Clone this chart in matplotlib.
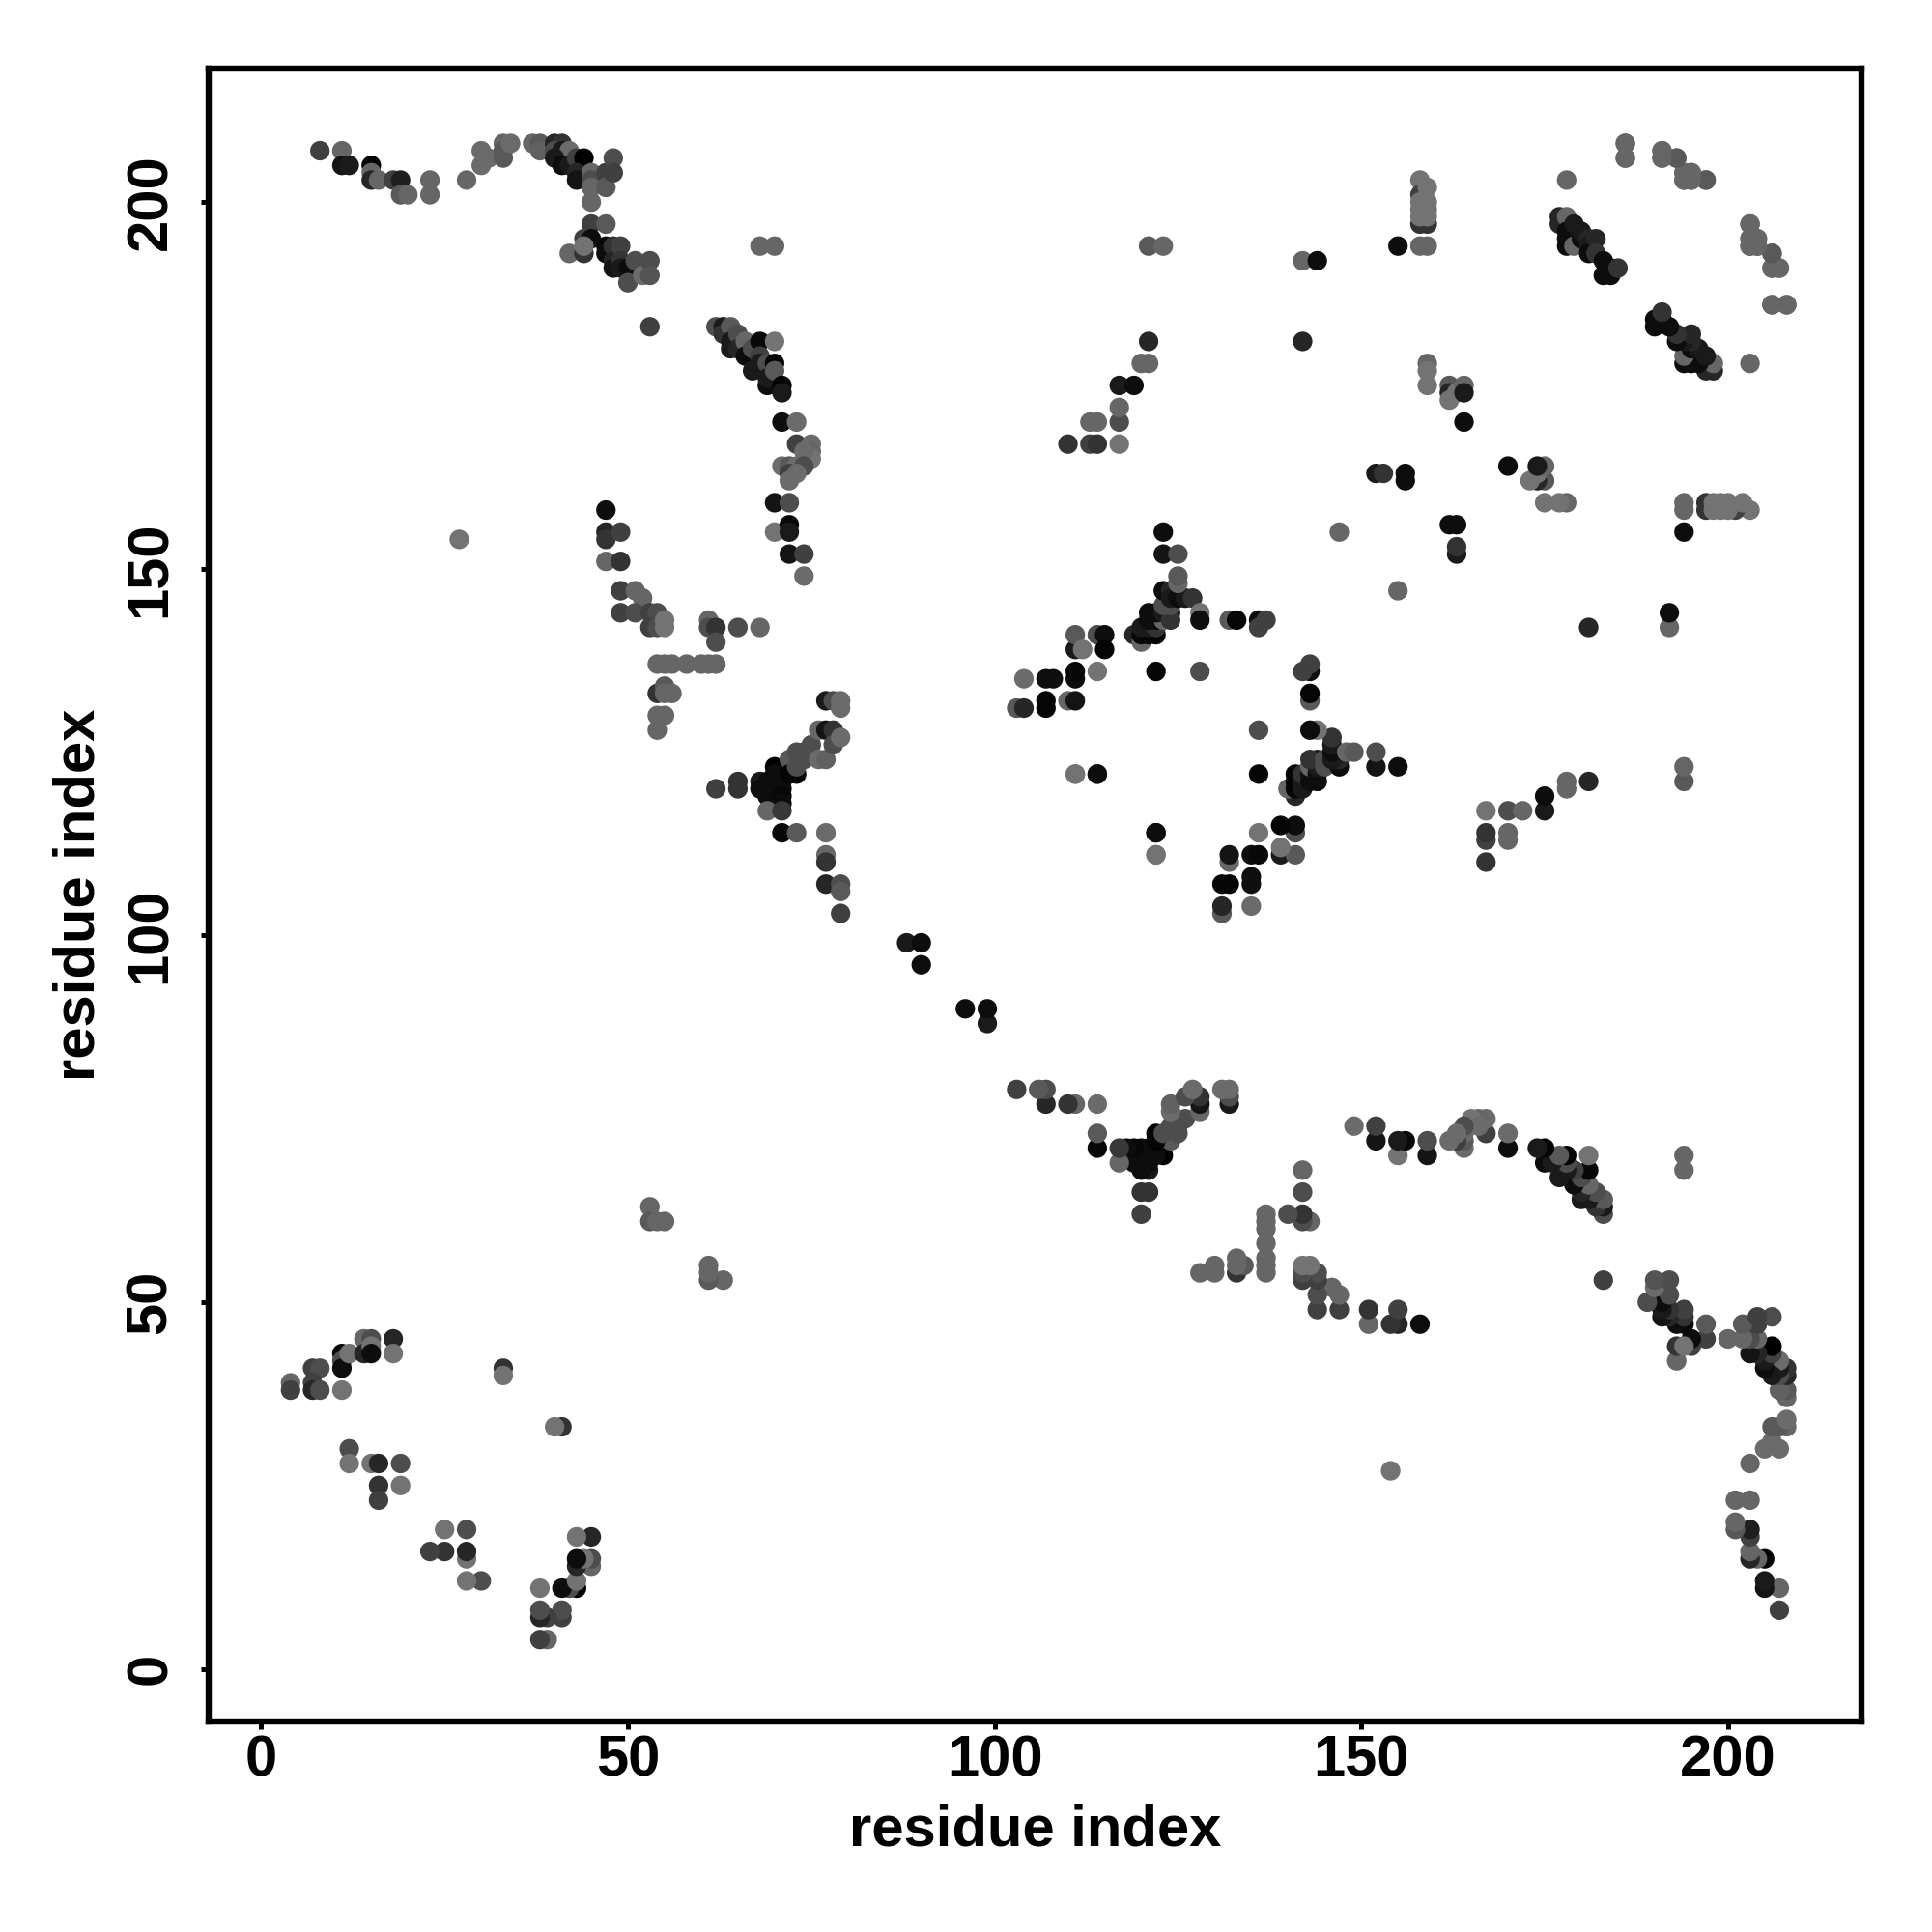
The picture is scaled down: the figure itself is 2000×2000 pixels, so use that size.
import matplotlib
matplotlib.use("Agg")
import matplotlib.pyplot as plt

# Contact pairs (residue i < residue j) with grey level in percent, one cluster per block
arc_i = [8,11,11,12,15, 15,15,16,18,19, 19,20,23,23,28, 30,30,31,33,33, 33,34,37,38,38, 40,41,40,41,42, 40,41,42,43,44, 43,43,45,45,45, 45,47,47,48,48]
arc_j = [207,207,205,205,205, 204,203,203,203,203, 201,201,203,201,203, 207,205,206,208,207, 206,208,208,208,207, 208,208,207,207,207, 206,205,205,206,206, 204,203,204,203,202, 200,204,202,206,204]
arc_g = [25,40,8,10,2, 40,15,40,25,12, 35,40,40,40,40, 42,42,42,40,35, 35,42,40,35,38, 15,20,30,10,42, 10,5,10,25,0, 15,8,40,30,40, 40,25,35,30,25]

arc2_i = [45,47,44,45,42, 44,44,47,47,48, 48,48,49,49,49, 50,50,51,52,53, 53,53]
arc2_j = [197,197,195,195,193, 193,194,194,193,194, 192,191,194,192,191, 191,189,192,190,192, 190,183]
arc2_g = [25,35,25,5,40, 20,45,3,5,20, 15,8,25,20,10, 5,30,30,42,30, 33,25]

arc3_i = [62,63,63,64,64, 64,65,65,66,66, 67,67,68,68,68, 69,69,69,70,70, 70,71,71,71,73, 73,75,75,75,74, 71,72,73,74,72, 73,72,70,72,70, 72,72,72,74,74]
arc3_j = [183,183,182,183,181, 180,182,180,181,179, 180,177,181,179,178, 178,175,176,181,178, 177,175,174,170,170, 167,167,166,165,166, 164,164,164,164,163, 163,162,159,159,155, 156,155,152,152,149]
arc3_g = [30,10,20,35,10, 10,30,15,40,5, 30,10,3,25,10, 30,5,10,45,2, 35,2,10,5,42, 25,42,40,45,42, 42,35,42,30,25, 42,42,8,30,45, 3,10,8,25,42]

arc4_i = [27,47,47,47,49, 47,49,49,51,52, 49,51,53,54,53, 54,55,55,54,55, 56,58,60,61,62, 54,55,56,55,54, 55,54,61,61,62, 62,65,68]
arc4_j = [154,158,155,154,155, 151,151,147,147,146, 144,144,144,144,142, 142,143,142,137,137, 137,137,137,137,137, 133,134,133,133,130, 130,128,143,142,142, 140,142,142]
arc4_g = [45,5,15,20,25, 40,20,25,40,40, 25,30,25,30,25, 30,45,45,40,40, 40,40,40,40,40, 20,35,40,40,40, 40,40,40,30,20, 30,30,40]

cross_i = [62,65,65,68,68, 69,69,69,70,70, 70,70,70,71,71, 71,71,69,71,71, 73,72,72,73,73, 73,74,74,75,76, 76,77,77,78,78, 77,78,79,79,79, 77,77,77,77,79, 79,79]
cross_j = [120,121,120,121,120, 121,120,119,123,122, 121,120,119,121,120, 119,118,117,117,114, 114,124,122,125,122, 123,125,124,126,128, 124,128,124,128,126, 132,132,132,131,127, 114,111,110,107,107, 106,103]
cross_g = [25,20,20,10,5, 5,5,5,0,5, 5,5,5,5,5, 3,5,40,22,3, 35,35,2,30,2, 30,30,30,30,40, 42,8,38,20,30, 10,30,42,42,42, 42,40,20,15,30, 35,25]

line_i = [88,90,90, 53,53,54,55, 33,33]
line_j = [99,99,96, 63,61,61,61, 41,40]
line_g = [10,5,5, 40,35,40,40, 20,45]

star_i = [103,104,104,107,108, 107,107,110,111,111, 111,111,111,112,114, 115,115,114,111,114, 119,120,120,121,122, 120,121,122,121,122, 123,121,122,123,124, 124,123,124,123,124, 124,125,126,127,125, 125,123,125,123,128, 128,122,128,122,122]
star_j = [131,131,135,135,135, 132,131,132,132,135, 136,139,141,139,141, 141,139,136,122,122, 141,140,141,141,141, 142,142,142,143,143, 143,144,144,144,144, 143,145,145,147,147, 146,146,146,146,148, 149,152,152,155,144, 143,136,136,114,111]
star_g = [35,15,42,6,6, 2,2,40,8,5, 3,10,35,45,30, 5,2,45,45,5, 15,40,3,2,2, 10,10,20,5,5, 40,5,5,10,10, 20,30,30,5,15, 10,5,10,20,40, 35,8,30,5,45, 5,2,30,5,45]

near_i = [132,133,136,136,137]
near_j = [143,143,143,142,143]
near_g = [35,2,5,25,25]

wing_i = [110,113,114,113,114, 117,117,117,117,119, 120,121,121,121,123, 68,70, 142,144,142, 155,158,159,158,159]
wing_j = [167,167,167,170,170, 167,170,172,175,175, 178,178,181,194,194, 194,194, 192,192,181, 194,194,194,197,197]
wing_g = [20,25,20,40,40, 45,30,40,10,5, 40,40,15,35,40, 40,40, 40,5,15, 5,40,40,20,20]

right_i = [158,158,158,158,158, 159,159,159,159, 159,159,159,162,162,163, 162,164,164,164, 152,153,156,156,147]
right_j = [203,201,200,199,198, 202,200,199,198, 178,177,175,175,174,174, 173,175,174,170, 163,163,163,162,155]
right_g = [45,25,45,45,45, 45,45,45,45, 40,45,45,35,15,45, 45,40,10,5, 10,20,5,5,40]

top_i = [186,186,191,191,193, 194,195,194,195,197, 178, 203,203,203,204,204, 206,206,207,206,208]
top_j = [208,206,207,206,206, 204,204,203,203,203, 203, 197,195,194,195,194, 193,191,191,186,186]
top_g = [40,40,40,40,35, 40,40,40,40,40, 40, 35,40,40,40,40, 35,40,40,40,40]

diag_i = [177,177,178,178,178, 178,179,179,180,180, 181,181,181,182,182, 183,183,184,184,185]
diag_j = [198,197,198,196,195, 194,197,194,195,196, 195,194,193,195,193, 192,190,191,190,191]
diag_g = [15,15,40,5,5, 5,10,40,5,10, 15,10,5,15,20, 5,5,5,5,20]

low_i = [4,4,7,8,7, 7,8,11,11,11, 11,12,14,14,15, 15,15,18,18, 12,12,15,16,19, 16,19,16]
low_j = [39,38,41,41,39, 38,38,43,42,41, 38,43,45,43,45, 44,43,45,43, 30,28,28,28,28, 25,25,23]
low_g = [40,25,25,30,25, 15,30,2,30,5, 45,45,40,15,30, 45,5,15,45, 30,45,45,15,30, 20,45,25]

residue_i = arc_i + arc2_i + arc3_i + arc4_i + cross_i + line_i + star_i + near_i + wing_i + right_i + top_i + diag_i + low_i
residue_j = arc_j + arc2_j + arc3_j + arc4_j + cross_j + line_j + star_j + near_j + wing_j + right_j + top_j + diag_j + low_j
grey = arc_g + arc2_g + arc3_g + arc4_g + cross_g + line_g + star_g + near_g + wing_g + right_g + top_g + diag_g + low_g

tick_values = [0, 50, 100, 150, 200]
axis_label = "residue index"

plt.rcParams["font.family"] = ["Liberation Sans", "DejaVu Sans"]
fig = plt.figure(figsize=(10, 10), dpi=200, facecolor="white")
ax = fig.add_axes([216/2000, 1-1782/2000, (1927-216)/2000, (1782-71)/2000])

xs = residue_i + residue_j
ys = residue_j + residue_i
cs = [str(g/100) for g in grey] * 2
ax.scatter(xs, ys, s=53, c=cs, linewidths=0, zorder=3)

ax.set_xlim(-7.17, 218.2)
ax.set_ylim(-7.17, 218.2)
ax.set_xticks(tick_values)
ax.set_yticks(tick_values)
ax.tick_params(axis="both", length=3, width=1.8, labelsize=21.5)
ax.tick_params(axis="x", pad=2)
ax.tick_params(axis="y", pad=8.5)
for lab in ax.get_xticklabels():
    lab.set_fontweight("bold")
for lab in ax.get_yticklabels():
    lab.set_fontweight("bold")
    lab.set_rotation(90)
    lab.set_va("center")
for s in ax.spines.values():
    s.set_linewidth(2.3)
ax.set_xlabel(axis_label, fontsize=21.5, fontweight="bold")
ax.set_ylabel(axis_label, fontsize=21.5, fontweight="bold")
ax.xaxis.set_label_coords(0.5, -0.05)
ax.yaxis.set_label_coords(-0.062, 0.5)
fig.savefig("out.png", dpi=200, facecolor="white")
